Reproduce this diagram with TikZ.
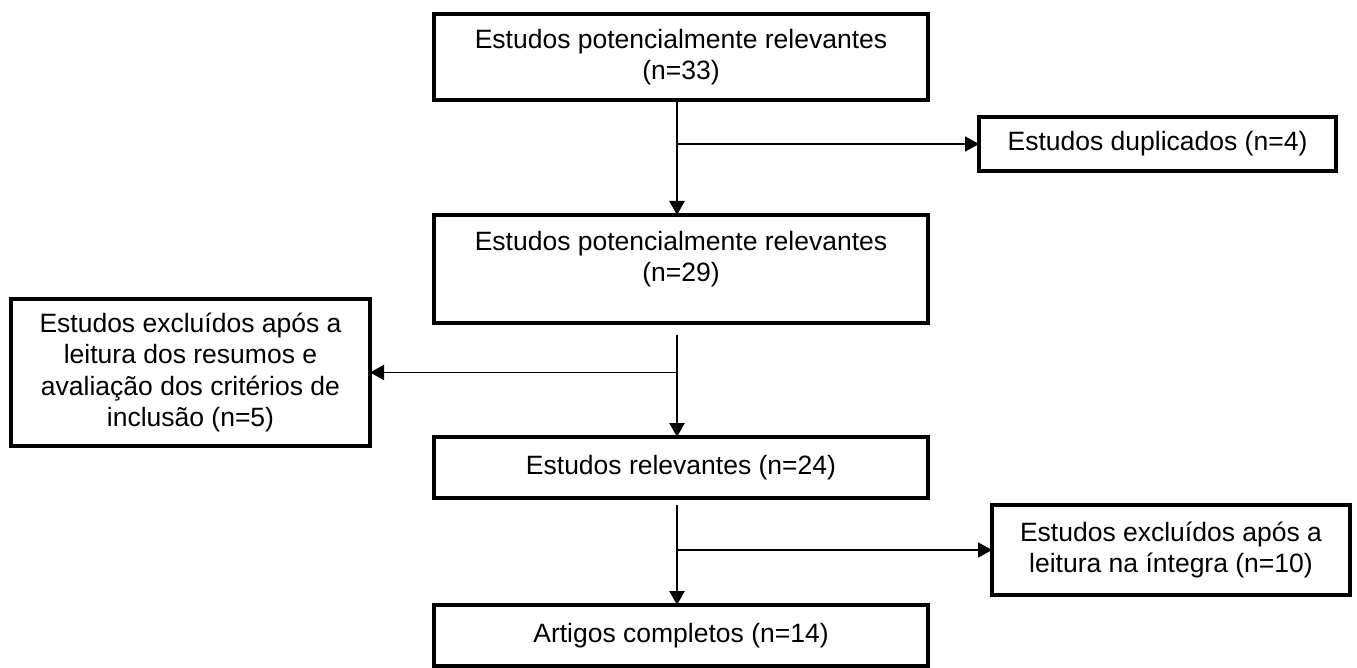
\documentclass[tikz,border=0pt]{standalone}
\usepackage{fontspec}
\setmainfont{Liberation Sans}
\usetikzlibrary{arrows.meta,calc}
\begin{document}
\begin{tikzpicture}[x=1pt,y=-1pt,
  box/.style={draw=black, line width=4.5pt, rectangle, inner sep=0pt, outer sep=0pt, align=center, font=\fontsize{26.5}{31.5}\selectfont},
  txt/.style={align=center, font=\fontsize{26.5}{31.5}\selectfont, inner sep=0pt},
  flow/.style={line width=2.4pt, -{Triangle[length=14pt,width=15pt]}},
  branch/.style={line width=1.8pt, -{Triangle[length=14pt,width=15pt]}}]
\useasboundingbox (0,0) rectangle (1357,668);
\node[box, minimum width=494pt, minimum height=86pt] (b1) at (681,57) {Estudos potencialmente relevantes\\(n=33)};
\node[box, minimum width=357pt, minimum height=54pt] (dup) at (1157.5,144) {Estudos duplicados (n=4)};
\node[box, minimum width=494pt, minimum height=108pt, label={[txt, yshift=10pt]center:{Estudos potencialmente relevantes\\(n=29)}}] (b2) at (681,269) {};
\node[box, minimum width=359pt, minimum height=147pt] (exc1) at (190.5,372.5) {Estudos excluídos após a\\leitura dos resumos e\\avaliação dos critérios de\\inclusão (n=5)};
\node[box, minimum width=494pt, minimum height=61pt] (b3) at (681,467.5) {Estudos relevantes (n=24)};
\node[box, minimum width=358pt, minimum height=90pt] (exc2) at (1171,550) {Estudos excluídos após a\\leitura na íntegra (n=10)};
\node[box, minimum width=494pt, minimum height=61pt] (b4) at (681,635.5) {Artigos completos (n=14)};
\coordinate (s1) at (677,0);
\coordinate (s2) at (677,335);
\coordinate (s3) at (677,505);
\draw[flow] (b1.south -| s1) -- (b2.north -| s1);
\draw[branch] (dup.west -| s1) -- (dup.west);
\draw[flow] (s2) -- (b3.north -| s2);
\draw[branch] (exc1.east -| s2) -- (exc1.east);
\draw[flow] (s3) -- (b4.north -| s3);
\draw[branch] (exc2.west -| s3) -- (exc2.west);
\end{tikzpicture}
\end{document}
